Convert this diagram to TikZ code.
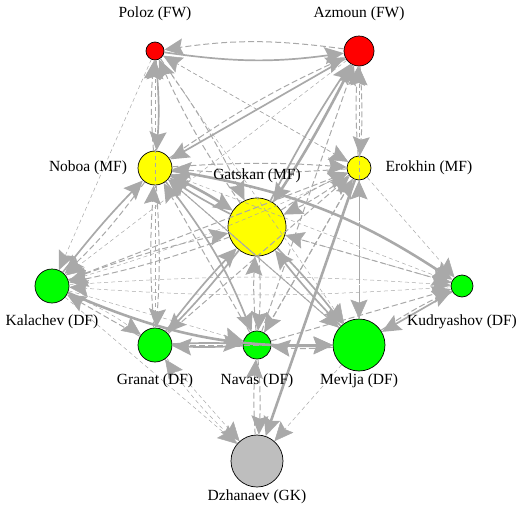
\documentclass[tikz,border=0pt]{standalone}
\usepackage{fontspec}
\setmainfont{Liberation Serif}
\usetikzlibrary{arrows.meta}
\definecolor{passgray}{HTML}{A9A9A9}
\definecolor{fwred}{HTML}{FF0000}
\definecolor{mfyellow}{HTML}{FFFF00}
\definecolor{dfgreen}{HTML}{00FF00}
\definecolor{gkgray}{HTML}{BEBEBE}
\tikzset{
  player/.style={circle, draw=black, line width=0.7pt, inner sep=0pt},
  pname/.style={font=\fontsize{15.5}{16}\selectfont, inner sep=0pt},
  pass/.style={draw=passgray, arrows={-Stealth[length=19pt,width=17pt,inset=3pt]}},
  weak/.style={pass, line width=0.5pt, dash pattern=on 4pt off 3pt},
  fair/.style={pass, line width=1pt, dash pattern=on 6pt off 3pt},
  good/.style={pass, line width=1.7pt},
  strong/.style={pass, line width=2.6pt},
}
\begin{document}
\begin{tikzpicture}[x=1pt, y=-1pt, line join=round]
					\useasboundingbox (0,0) rectangle (523,509);
					%%%%%%%%%%%%%%%%%%%%%%%%%%%%%%%%%
					\node[player, fill=fwred, minimum size=18pt] (P) at (155,51) {};
					\node[player, fill=fwred, minimum size=30pt] (A) at (359,51) {};
					\node[player, fill=mfyellow, minimum size=34pt] (N) at (155,168) {};
					\node[player, fill=mfyellow, minimum size=24pt] (E) at (359,168) {};
					\node[player, fill=mfyellow, minimum size=58pt] (G) at (257,227) {};
					\node[player, fill=dfgreen, minimum size=34pt] (K) at (52,286) {};
					\node[player, fill=dfgreen, minimum size=22pt] (Ku) at (462,286) {};
					\node[player, fill=dfgreen, minimum size=34pt] (Gr) at (155,345) {};
					\node[player, fill=dfgreen, minimum size=28pt] (Na) at (257,345) {};
					\node[player, fill=dfgreen, minimum size=52pt] (M) at (359,345) {};
					\node[player, fill=gkgray, minimum size=52pt] (D) at (257,461) {};
					%%%%%%%%%%%%%%%%%%%%%%%%%%%%%%%%%
					% weak passes
					\draw[weak] (P) -- (K);
					\draw[weak] (P) -- (E);
					\draw[weak] (P) -- (M);
					\draw[weak] (Gr) -- (P);
					\draw[weak] (E) -- (P);
					\draw[weak] (M) -- (A);
					\draw[weak] (A) -- (K);
					\draw[weak] (E) to[bend left=4] (K);
					\draw[weak] (K) to[bend left=4] (Ku);
					\draw[weak] (Ku) to[bend left=4] (K);
					\draw[weak] (E) -- (Ku);
					\draw[weak] (E) -- (M);
					\draw[weak] (Ku) -- (G);
					\draw[weak] (K) to[bend left=6] (Gr);
					\draw[weak] (K) -- (Na);
					\draw[weak] (K) -- (D);
					\draw[weak] (Gr) -- (D);
					\draw[weak] (D) to[bend left=6] (Gr);
					\draw[weak] (M) -- (D);
					\draw[weak] (Ku) -- (N);
					%%%%%%%%%%%%%%%%%%%%%%%%%%%%%%%%%
					% fair passes
					\draw[fair] (A) to[bend right=8] (P);
					\draw[fair] (N) to[bend left=5] (P);
					\draw[fair] (P) to[bend left=5] (G);
					\draw[fair] (G) to[bend left=5] (P);
					\draw[fair] (N) to[bend left=5] (A);
					\draw[fair] (A) to[bend left=4] (E);
					\draw[fair] (E) to[bend left=4] (A);
					\draw[fair] (Na) -- (A);
					\draw[fair] (N) to[bend left=4] (E);
					\draw[fair] (E) to[bend left=4] (N);
					\draw[fair] (N) to[bend left=5] (K);
					\draw[fair] (N) to[bend left=4] (Gr);
					\draw[fair] (Gr) to[bend left=4] (N);
					\draw[fair] (N) -- (M);
					\draw[fair] (Na) -- (N);
					\draw[fair] (M) -- (N);
					\draw[fair] (E) to[bend left=5] (G);
					\draw[fair] (G) to[bend left=5] (E);
					\draw[fair] (M) -- (E);
					\draw[fair] (E) -- (Na);
					\draw[fair] (Na) -- (E);
					\draw[fair] (Gr) -- (E);
					\draw[fair] (K) to[bend left=4] (G);
					\draw[fair] (G) to[bend left=4] (K);
					\draw[fair] (K) -- (E);
					\draw[fair] (Gr) -- (K);
					\draw[fair] (G) -- (Ku);
					\draw[fair] (M) to[bend left=4] (Ku);
					\draw[fair] (Na) -- (Ku);
					\draw[fair] (G) to[bend left=4] (Na);
					\draw[fair] (Na) to[bend left=4] (G);
					\draw[fair] (Gr) -- (M);
					\draw[fair] (M) to[bend left=5] (Na);
					\draw[fair] (Na) to[bend left=4] (D);
					\draw[fair] (D) to[bend left=4] (Na);
					%%%%%%%%%%%%%%%%%%%%%%%%%%%%%%%%%
					% good and strong passes
					\draw[good] (P) to[bend right=8] (A);
					\draw[good] (P) to[bend left=5] (N);
					\draw[good] (A) -- (N);
					\draw[strong] (A) to[bend left=3] (G);
					\draw[good] (G) to[bend left=3] (A);
					\draw[strong] (N) to[bend left=4] (G);
					\draw[good] (G) to[bend left=4] (N);
					\draw[strong] (N) to[bend left=12] (Ku);
					\draw[good] (K) to[bend left=3] (N);
					\draw[strong] (K) to[bend right=12] (M);
					\draw[good] (Gr) to[bend left=3] (G);
					\draw[good] (G) to[bend left=3] (Gr);
					\draw[good] (N) to[bend left=8] (Na);
					\draw[good] (G) to[bend left=3] (M);
					\draw[good] (M) to[bend left=3] (G);
					\draw[good] (Gr) to[bend left=3] (Na);
					\draw[good] (Na) to[bend left=3] (Gr);
					\draw[good] (Na) -- (M);
					\draw[good] (Ku) -- (M);
					\draw[strong] (E) -- (D);
					%%%%%%%%%%%%%%%%%%%%%%%%%%%%%%%%%
					\node[pname] (lP) at (155,14) {Poloz (FW)};
					\node[pname] (lA) at (359,14) {Azmoun (FW)};
					\node[pname] (lN) at (88,168) {Noboa (MF)};
					\node[pname] (lE) at (429,168) {Erokhin (MF)};
					\node[pname] (lG) at (257,176) {Gatskan (MF)};
					\node[pname] (lK) at (52,322) {Kalachev (DF)};
					\node[pname] (lKu) at (462,322) {Kudryashov (DF)};
					\node[pname] (lGr) at (155,381) {Granat (DF)};
					\node[pname] (lNa) at (257,381) {Navas (DF)};
					\node[pname] (lM) at (359,381) {Mevlja (DF)};
					\node[pname] (lD) at (257,497) {Dzhanaev (GK)};
					%%%%%%%%%%%%%%%%%%%%%%%%%%%%%%%%%
\end{tikzpicture}
\end{document}
